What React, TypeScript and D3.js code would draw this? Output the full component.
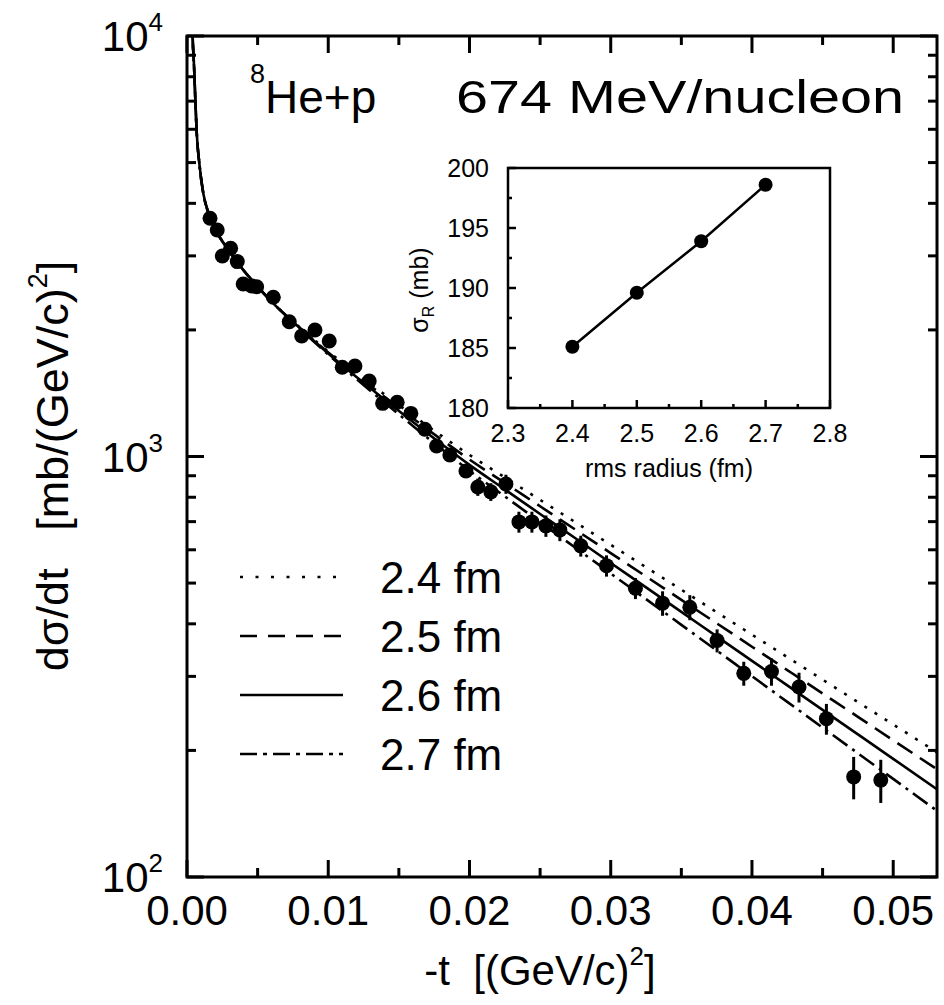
import React from "react";
import * as d3 from "d3";

// ---- main data: 8He + p, 674 MeV/nucleon ----
const tData = [0.00163, 0.00214, 0.0025, 0.00309, 0.00356, 0.00398, 0.00458, 0.00493, 0.00611, 0.00724, 0.00812, 0.00906, 0.01007, 0.01099, 0.01189, 0.0129, 0.01385, 0.01488, 0.01585, 0.01684, 0.01767, 0.01861, 0.01975, 0.02059, 0.02151, 0.02258, 0.0235, 0.02442, 0.02541, 0.0264, 0.02788, 0.0297, 0.03175, 0.03367, 0.0356, 0.03753, 0.03942, 0.04138, 0.04333, 0.04527, 0.0472, 0.04912];
const dsdt = [3686, 3456, 2999, 3128, 2907, 2572, 2544, 2534, 2391, 2092, 1934, 1999, 1882, 1630, 1642, 1512, 1338, 1346, 1266, 1161, 1059, 1008, 924, 846, 824, 860, 699, 699, 684, 669, 613, 550, 486, 448, 438, 365, 305, 308, 283, 238, 173, 170];
const dsdtErr = [90, 85, 75, 80, 75, 65, 65, 65, 60, 55, 50, 55, 50, 45, 45, 45, 40, 40, 40, 40, 35, 35, 35, 40, 40, 45, 40, 40, 40, 40, 35, 32, 28, 30, 30, 23, 20, 23, 23, 20, 20, 20];

// theory curves (shared t grid)
const curveT = [0.00035, 0.0004, 0.0005, 0.00059, 0.00069, 0.00087, 0.00115, 0.00145, 0.00175, 0.002, 0.003, 0.004, 0.005, 0.006, 0.008, 0.01, 0.012, 0.014, 0.016, 0.018, 0.02, 0.0225, 0.025, 0.0275, 0.03, 0.0325, 0.035, 0.0375, 0.04, 0.0425, 0.045, 0.0475, 0.05, 0.0531];
const curveFront = [11500, 9950, 8450, 7050, 5875, 4990, 4235, 3855, 3650, 3483, 3076, 2773, 2535, 2333];
const curve24 = [2026, 1777, 1575, 1403, 1253, 1121, 1009, 892, 788.5, 697.5, 616.6, 545.3, 482.2, 426.3, 377, 333.3, 294.7, 260.6, 230.5, 197.9];
const curve25 = [2022, 1768.5, 1561, 1385.5, 1232, 1098, 983.6, 865.3, 761.4, 669.9, 589.3, 518.5, 456, 401.2, 352.9, 310.5, 273.2, 240.4, 211.4, 180.4];
const curve26 = [2018, 1758, 1545, 1365, 1208, 1072, 955, 835, 730, 639, 558, 488.5, 427, 373.5, 326.6, 285.6, 249.7, 218.4, 191, 161.7];
const curve27 = [2013, 1746.6, 1528, 1342.8, 1182, 1043, 924.9, 803.6, 698.2, 606.6, 527, 457.9, 397.8, 345.7, 300.2, 260.9, 226.6, 196.9, 171.1, 143.7];
const legendLabels = ["2.4 fm", "2.5 fm", "2.6 fm", "2.7 fm"];
const xTicks = [0, 0.01, 0.02, 0.03, 0.04, 0.05];
const xTickLabels = ["0.00", "0.01", "0.02", "0.03", "0.04", "0.05"];
const xMinor = [0.005, 0.015, 0.025, 0.035, 0.045];
const yDecades = [100, 1000, 10000];
const yDecadeExp = ["2", "3", "4"];

// inset data
const rmsRadius = [2.4, 2.5, 2.6, 2.7];
const sigmaR = [185.1, 189.6, 193.9, 198.6];
const insetXTicks = [2.3, 2.4, 2.5, 2.6, 2.7, 2.8];
const insetXMinor = [2.35, 2.45, 2.55, 2.65, 2.75];
const insetYTicks = [180, 185, 190, 195, 200];
const insetYMinor = [182.5, 187.5, 192.5, 197.5];

const FONT = "'Liberation Sans', Arial, Helvetica, sans-serif";

export default function App() {
  const L = 187, R = 937, T = 36, B = 877;
  const x = d3.scaleLinear().domain([0, 0.0531]).range([L, R]);
  const y = d3.scaleLog().domain([100, 10000]).range([B, T]);

  const iL = 508, iR = 830, iT = 168, iB = 408;
  const xi = d3.scaleLinear().domain([2.3, 2.8]).range([iL, iR]);
  const yi = d3.scaleLinear().domain([180, 200]).range([iB, iT]);

  const line = d3
    .line<[number, number]>()
    .x((d) => x(d[0]))
    .y((d) => y(d[1]))
    .curve(d3.curveMonotoneX);

  const buildCurve = (tail: number[]) =>
    curveT.map((t, i) => [t, i < curveFront.length ? curveFront[i] : tail[i - curveFront.length]] as [number, number]);

  const curves = [
    { vals: curve24, dash: "3,9" },
    { vals: curve25, dash: "18,9" },
    { vals: curve26, dash: "" },
    { vals: curve27, dash: "18,6,3,6" },
  ];
  const legendDash = ["3,12.5", "17,11", "", "17,6,4,6"];

  const yMinor: number[] = [];
  [100, 1000].forEach((dec) => {
    for (let k = 2; k <= 9; k++) yMinor.push(dec * k);
  });

  const iline = d3
    .line<number>()
    .x((_, i) => xi(rmsRadius[i]))
    .y((d) => yi(d));

  const sw = 3;

  return (
    <svg
      width={944}
      height={1005}
      style={{ position: "absolute", left: 0, top: 0, background: "#fff" }}
      fontFamily={FONT}
    >
      <rect x={0} y={0} width={944} height={1005} fill="#fff" />
      <defs>
        <clipPath id="plotClip">
          <rect x={L} y={T} width={R - L} height={B - T} />
        </clipPath>
      </defs>

      {/* theory curves */}
      <g clipPath="url(#plotClip)">
        {curves.map((c, i) => (
          <path
            key={i}
            d={line(buildCurve(c.vals)) || ""}
            fill="none"
            stroke="#000"
            strokeWidth={2.6}
            strokeDasharray={c.dash || undefined}
          />
        ))}
      </g>

      {/* data */}
      <g>
        {tData.map((t, i) => (
          <line
            key={"e" + i}
            x1={x(t)}
            x2={x(t)}
            y1={y(dsdt[i] + dsdtErr[i])}
            y2={y(dsdt[i] - dsdtErr[i])}
            stroke="#000"
            strokeWidth={3}
          />
        ))}
        {tData.map((t, i) => (
          <circle key={"p" + i} cx={x(t)} cy={y(dsdt[i])} r={7.5} fill="#000" />
        ))}
      </g>

      {/* frame */}
      <rect x={L} y={T} width={R - L} height={B - T} fill="none" stroke="#000" strokeWidth={sw} />

      {/* x ticks */}
      {xTicks.map((t, i) => (
        <g key={"xt" + i}>
          <line x1={x(t)} x2={x(t)} y1={B} y2={B - 17} stroke="#000" strokeWidth={sw} />
          <line x1={x(t)} x2={x(t)} y1={T} y2={T + 17} stroke="#000" strokeWidth={sw} />
          <text x={x(t)} y={925} fontSize={42} textAnchor="middle">
            {xTickLabels[i]}
          </text>
        </g>
      ))}
      {xMinor.map((t, i) => (
        <g key={"xm" + i}>
          <line x1={x(t)} x2={x(t)} y1={B} y2={B - 9} stroke="#000" strokeWidth={sw} />
          <line x1={x(t)} x2={x(t)} y1={T} y2={T + 9} stroke="#000" strokeWidth={sw} />
        </g>
      ))}

      {/* y ticks */}
      {yDecades.map((v, i) => (
        <g key={"yt" + i}>
          <line x1={L} x2={L + 17} y1={y(v)} y2={y(v)} stroke="#000" strokeWidth={sw} />
          <line x1={R} x2={R - 17} y1={y(v)} y2={y(v)} stroke="#000" strokeWidth={sw} />
          <text x={163} y={y(v) + 15} fontSize={42} textAnchor="end">
            10
            <tspan fontSize={26} dy={-20}>
              {yDecadeExp[i]}
            </tspan>
          </text>
        </g>
      ))}
      {yMinor.map((v, i) => (
        <g key={"ym" + i}>
          <line x1={L} x2={L + 9} y1={y(v)} y2={y(v)} stroke="#000" strokeWidth={sw} />
          <line x1={R} x2={R - 9} y1={y(v)} y2={y(v)} stroke="#000" strokeWidth={sw} />
        </g>
      ))}

      {/* axis titles */}
      <text x={540} y={985} fontSize={42} textAnchor="middle" style={{ whiteSpace: "pre" }}>
        {"-t  [(GeV/c)"}
        <tspan fontSize={26} dy={-20}>2</tspan>
        <tspan dy={20}>]</tspan>
      </text>
      <text
        transform={`translate(68, 466) rotate(-90)`}
        fontSize={45}
        textAnchor="middle"
        style={{ whiteSpace: "pre" }}
      >
        {"dσ/dt   [mb/(GeV/c)"}
        <tspan fontSize={27} dy={-21}>2</tspan>
        <tspan dy={21}>]</tspan>
      </text>

      {/* title */}
      <text x={250} y={113} fontSize={46}>
        <tspan fontSize={27} dy={-30}>8</tspan>
        <tspan dy={30}>He+p</tspan>
      </text>
      <text x={456} y={113} fontSize={46} textLength={448} lengthAdjust="spacingAndGlyphs">
        674 MeV/nucleon
      </text>

      {/* legend */}
      {legendLabels.map((lab, i) => {
        const base = 593 + i * 59;
        return (
          <g key={"lg" + i}>
            <line
              x1={240}
              x2={343}
              y1={base - 16}
              y2={base - 16}
              stroke="#000"
              strokeWidth={2.6}
              strokeDasharray={legendDash[i] || undefined}
            />
            <text x={380} y={base} fontSize={44}>
              {lab}
            </text>
          </g>
        );
      })}

      {/* inset */}
      <rect x={iL} y={iT} width={iR - iL} height={iB - iT} fill="#fff" stroke="none" />
      <path d={iline(sigmaR) || ""} fill="none" stroke="#000" strokeWidth={2.5} />
      {sigmaR.map((s, i) => (
        <circle key={"ip" + i} cx={xi(rmsRadius[i])} cy={yi(s)} r={7} fill="#000" />
      ))}
      <rect x={iL} y={iT} width={iR - iL} height={iB - iT} fill="none" stroke="#000" strokeWidth={2.5} />
      {insetXTicks.map((v, i) => (
        <g key={"ixt" + i}>
          <line x1={xi(v)} x2={xi(v)} y1={iB} y2={iB - 8} stroke="#000" strokeWidth={2.5} />
          <text x={xi(v)} y={442} fontSize={25} textAnchor="middle">
            {v.toFixed(1)}
          </text>
        </g>
      ))}
      {insetXMinor.map((v, i) => (
        <line key={"ixm" + i} x1={xi(v)} x2={xi(v)} y1={iB} y2={iB - 4} stroke="#000" strokeWidth={2.5} />
      ))}
      {insetYTicks.map((v, i) => (
        <g key={"iyt" + i}>
          <line x1={iL} x2={iL + 8} y1={yi(v)} y2={yi(v)} stroke="#000" strokeWidth={2.5} />
          <text x={489} y={yi(v) + 9} fontSize={25} textAnchor="end">
            {v}
          </text>
        </g>
      ))}
      {insetYMinor.map((v, i) => (
        <line key={"iym" + i} x1={iL} x2={iL + 4} y1={yi(v)} y2={yi(v)} stroke="#000" strokeWidth={2.5} />
      ))}
      <text x={669} y={477} fontSize={25} textAnchor="middle">
        rms radius (fm)
      </text>
      <text transform={`translate(428, 290) rotate(-90)`} fontSize={25} textAnchor="middle">
        σ
        <tspan fontSize={16} dy={6}>R</tspan>
        <tspan dy={-6}> (mb)</tspan>
      </text>
    </svg>
  );
}
